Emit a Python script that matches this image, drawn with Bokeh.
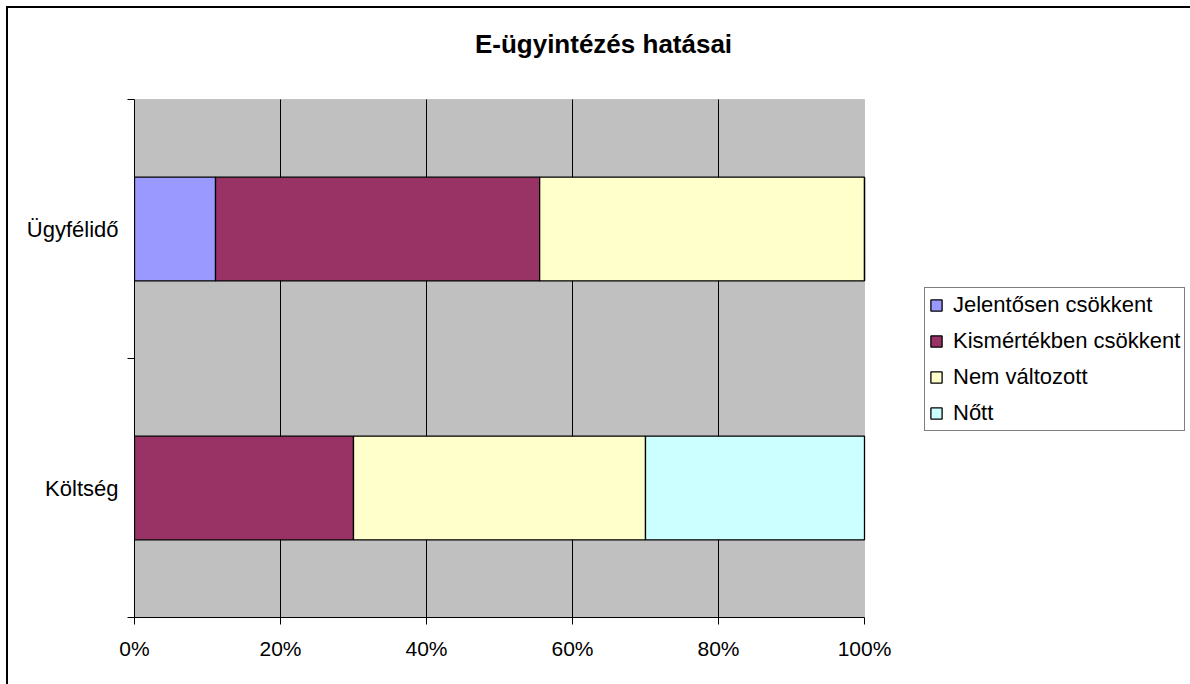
from bokeh.plotting import figure
from bokeh.models import (ColumnDataSource, Range1d, FixedTicker, PrintfTickFormatter,
                          Legend, LegendItem, Label, BoxAnnotation)
from bokeh.embed import file_html
from bokeh.resources import INLINE

# ---- data ----
title_text = "E-ügyintézés hatásai"
categories = ["Költség", "Ügyfélidő"]          # bottom to top
series_names = ["Jelentősen csökkent", "Kismértékben csökkent", "Nem változott", "Nőtt"]
jelentosen = [0.0, 11.1]
kismertekben = [30.0, 44.4]
nem_valtozott = [40.0, 44.5]
nott = [30.0, 0.0]
x_ticks = [0, 20, 40, 60, 80, 100]
colors = ["#9999FF", "#993366", "#FFFFCC", "#CCFFFF"]

FONT = "Liberation Sans"

# ---- layout (pixels) ----
W, H = 1182, 676
LEFT, BOTTOM = 126, 67          # space for the axes
PLOT_W, PLOT_H = 730, 518       # size of the grey plot area
n = len(categories)
x_max = x_ticks[-1]
x_end = x_max * (W - LEFT) / PLOT_W
y_end = n * (H - BOTTOM) / PLOT_H

y_pos = [i + 0.5 for i in range(n)]
source = ColumnDataSource(data=dict(
    y=y_pos,
    s0=jelentosen, s1=kismertekben, s2=nem_valtozott, s3=nott,
))

p = figure(width=W, height=H, output_backend="svg", toolbar_location=None,
           x_range=Range1d(0, x_end), y_range=Range1d(0, y_end),
           min_border_left=LEFT, min_border_right=0, min_border_top=0, min_border_bottom=BOTTOM)
p.styles = {"margin-left": "8px", "margin-top": "8px", "outline": "2px solid black"}

p.background_fill_color = "white"
p.border_fill_color = "white"
p.outline_line_color = None

# grey plot area
p.add_layout(BoxAnnotation(left=0, right=x_max, bottom=0, top=n,
                           fill_color="#C0C0C0", fill_alpha=1,
                           line_color="#808080", line_width=1, level="image"))

# grid
g = p.xgrid[0]
g.ticker = FixedTicker(ticks=x_ticks[1:-1])
g.grid_line_color = "black"
g.grid_line_width = 1
g.bounds = (0, x_max)
if "cross_bounds" in g.properties():
    g.cross_bounds = (0, n)
else:
    g.visible = False
    p.segment(x0=x_ticks[1:-1], y0=[0] * 4, x1=x_ticks[1:-1], y1=[n] * 4,
              line_color="black", line_width=1)
p.ygrid.grid_line_color = None

renderers = p.hbar_stack(["s0", "s1", "s2", "s3"], y="y", height=0.4, source=source,
                         fill_color=colors, line_color="black", line_width=1.3)

# x axis
xa = p.xaxis[0]
xa.bounds = (0, x_max)
xa.ticker = FixedTicker(ticks=x_ticks, minor_ticks=[])
xa.formatter = PrintfTickFormatter(format="%d%%")
xa.major_tick_out = 7
xa.major_tick_in = 0
xa.minor_tick_line_color = None
xa.axis_line_color = "black"
xa.major_tick_line_color = "black"
xa.major_label_text_font = FONT
xa.major_label_text_font_size = "21px"
xa.major_label_text_color = "black"
xa.major_label_standoff = 12

# y axis
ya = p.yaxis[0]
ya.bounds = (0, n)
ya.ticker = FixedTicker(ticks=y_pos, minor_ticks=list(range(n + 1)))
ya.major_label_overrides = {y: c for y, c in zip(y_pos, categories)}
ya.major_tick_line_color = None
ya.major_tick_out = 0
ya.major_tick_in = 0
ya.minor_tick_out = 7
ya.minor_tick_in = 0
ya.minor_tick_line_color = "black"
ya.axis_line_color = "black"
ya.major_label_text_font = FONT
ya.major_label_text_font_size = "22px"
ya.major_label_text_color = "black"
ya.major_label_standoff = 9

# title (screen units measured from the frame's bottom-left)
p.add_layout(Label(x=469, y=574, x_units="screen", y_units="screen", text=title_text,
                   text_font=FONT, text_font_size="26px", text_font_style="bold",
                   text_align="center", text_baseline="alphabetic", text_color="black"))

# legend
legend = Legend(items=[LegendItem(label=nm, renderers=[r]) for nm, r in zip(series_names, renderers)],
                location=(790, 186), orientation="vertical")
legend.label_text_font = FONT
legend.label_text_font_size = "22px"
legend.label_text_color = "black"
legend.glyph_width = 14
legend.glyph_height = 14
legend.label_height = 22
legend.label_standoff = 10
legend.spacing = 10
legend.padding = 4
legend.margin = 0
legend.border_line_color = "black"
legend.border_line_width = 1
legend.background_fill_color = "white"
legend.background_fill_alpha = 1
p.add_layout(legend, "center")

open("out.html", "w").write(file_html(p, INLINE))
